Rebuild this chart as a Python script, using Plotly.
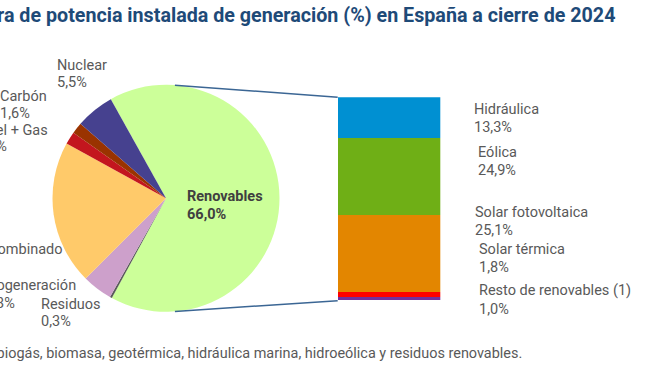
import math
import plotly.graph_objects as go

W, H = 672, 372

# ---------------- data ----------------
pie_labels = ["Renovables", "Residuos", "Cogeneración", "Ciclo combinado",
              "Fuel + Gas", "Carbón", "Nuclear"]
pie_values = [66.0, 0.3, 4.3, 20.5, 1.8, 1.6, 5.5]
pie_colors = ["#CCFF99", "#5A5A5A", "#CDA0CB", "#FFCA6A",
              "#C3161E", "#9A3300", "#46418F"]

ren_labels = ["Resto de renovables (1)", "Solar térmica", "Solar fotovoltaica",
              "Eólica", "Hidráulica"]
ren_values = [1.0, 1.8, 25.1, 24.9, 13.3]
ren_colors = ["#7030A0", "#FF0000", "#E38600", "#6FAF16", "#0090D2"]

title_text = "Estructura de potencia instalada de generación (%) en España a cierre de 2024"
footnote_text = ("(1) Incluye biogás, biomasa, geotérmica, hidráulica marina, "
                 "hidroeólica y residuos renovables.")


def pct(v):
    return f"{v:.1f}".replace(".", ",") + "%"


def px(x):
    return x / W


def py(y):
    return 1 - y / H


# ---------------- layout geometry ----------------
cx, cy, r = 166.0, 198.3, 113.5
bar_l, bar_r, bar_t, bar_b = 337.7, 440.3, 97.3, 300.7
first_start = 29.1  # degrees counter-clockwise from 12 o'clock

fig = go.Figure()

fig.add_trace(go.Pie(
    labels=pie_labels, values=pie_values,
    marker=dict(colors=pie_colors, line=dict(width=0)),
    sort=False, direction="clockwise", rotation=-first_start,
    textinfo="none", hoverinfo="label+percent", showlegend=False,
    domain=dict(x=[px(cx - r), px(cx + r)], y=[py(cy + r), py(cy - r)]),
))

for lab, val, col in zip(ren_labels, ren_values, ren_colors):
    fig.add_trace(go.Bar(
        x=["Renovables"], y=[val], name=lab, marker=dict(color=col, line=dict(width=0)),
        xaxis="x", yaxis="y", showlegend=False, hoverinfo="name+y",
    ))

total_ren = sum(ren_values)

# connector lines between pie and bar
ang = math.radians(4.5)
top_pt = (cx + r * math.sin(ang), cy - r * math.cos(ang))
bot_pt = (cx + r * math.sin(ang), cy + r * math.cos(ang))
shapes = [
    dict(type="line", xref="paper", yref="paper", x0=px(top_pt[0]), y0=py(top_pt[1]),
         x1=px(bar_l), y1=py(bar_t), line=dict(color="#3B6694", width=1.5)),
    dict(type="line", xref="paper", yref="paper", x0=px(bot_pt[0]), y0=py(bot_pt[1]),
         x1=px(bar_l), y1=py(bar_b), line=dict(color="#3B6694", width=1.5)),
]

GRAY = "#595959"
FONT = "Roboto"
annotations = []


def ann(text, x, y, anchor="left", size=14.5, color=GRAY, bold=False):
    annotations.append(dict(
        text=f"<b>{text}</b>" if bold else text,
        x=px(x), y=py(y), xref="paper", yref="paper",
        xanchor=anchor, yanchor="middle", showarrow=False,
        font=dict(family=FONT, size=size, color=color), align=anchor,
    ))


pv = dict(zip(pie_labels, pie_values))
rv = dict(zip(ren_labels, ren_values))

# title and footnote
ann(title_text, 616.7, 15.5, anchor="right", size=19.7, color="#1E4A78", bold=True)
ann(footnote_text, 524.3, 353, anchor="right", size=14.45, color=GRAY)

# pie labels
ann("Nuclear", 55, 65.7); ann(pct(pv["Nuclear"]), 55, 82.3)
ann("Carbón", -2, 96.7); ann(pct(pv["Carbón"]), -2, 113.3)
ann("Fuel + Gas", 50, 130, anchor="right"); ann(pct(pv["Fuel + Gas"]), 9, 146.7, anchor="right")
ann("Ciclo combinado", 65, 249.3, anchor="right"); ann(pct(pv["Ciclo combinado"]), -42, 266)
ann("Cogeneración", 77.7, 285.7, anchor="right"); ann(pct(pv["Cogeneración"]), 16.7, 303.3, anchor="right")
ann("Residuos", 39.3, 304); ann(pct(pv["Residuos"]), 39.3, 321.7)
ann("Renovables", 185, 196.7, color="#404040", bold=True)
ann(pct(pv["Renovables"]), 185, 214, color="#404040", bold=True)

# bar labels
bar_lab_pos = {
    "Hidráulica": (471.7, 109.3, 127.7),
    "Eólica": (476, 152.7, 170.7),
    "Solar fotovoltaica": (472.7, 212.3, 230),
    "Solar térmica": (476.7, 250, 267.7),
    "Resto de renovables (1)": (476.7, 290.7, 309.3),
}
for lab in ren_labels:
    x, y1, y2 = bar_lab_pos[lab]
    ann(lab, x, y1)
    ann(pct(rv[lab]), x, y2)

fig.update_layout(
    width=W, height=H, margin=dict(l=0, r=0, t=0, b=0),
    paper_bgcolor="white", plot_bgcolor="white",
    barmode="stack", bargap=0,
    xaxis=dict(domain=[px(bar_l), px(bar_r)], range=[-0.5, 0.5], visible=False, fixedrange=True),
    yaxis=dict(domain=[py(bar_b), py(bar_t)], range=[0, total_ren], visible=False, fixedrange=True),
    shapes=shapes, annotations=annotations,
    font=dict(family=FONT, color=GRAY),
)

fig.write_html("out.html", config={"displayModeBar": False},
               post_script="document.body.style.margin='0';")
